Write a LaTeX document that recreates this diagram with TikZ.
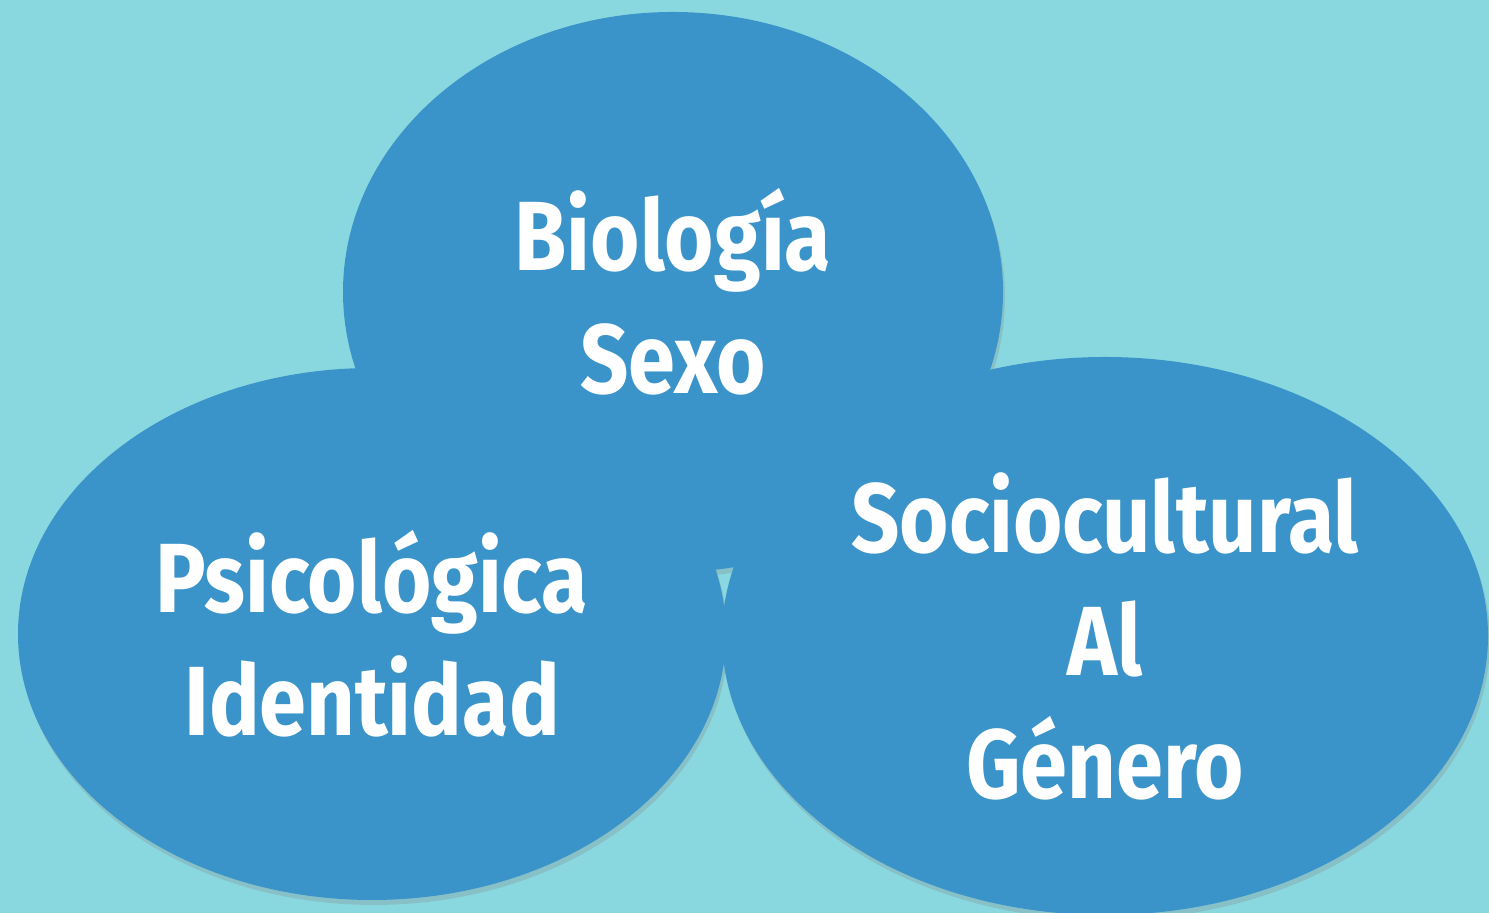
\documentclass[tikz,border=0pt]{standalone}
\usepackage{fontspec}
\setmainfont{Fira Sans}[FakeStretch=0.86]
\usetikzlibrary{shapes.geometric,shadows}
\definecolor{bgteal}{HTML}{8AD8DF}
\definecolor{blobblue}{HTML}{3B94C9}
\tikzset{
  blob/.style={ellipse, fill=blobblue, inner sep=0pt, align=center, text=white,
    font=\fontsize{28}{35}\selectfont\bfseries,
    drop shadow={shadow xshift=0.02cm, shadow yshift=-0.05cm, opacity=0.25}}
}
\begin{document}
\begin{tikzpicture}
\fill[bgteal] (0,0) rectangle (14.89,9.13);
\useasboundingbox (0,0) rectangle (14.89,9.13);
\node[blob, minimum width=6.60cm, minimum height=5.60cm] (bio) at (6.73,6.21) {Biología\\Sexo};
\node[blob, minimum width=7.08cm, minimum height=5.32cm] (psi) at (3.72,2.79) {Psicológica\\Identidad};
\node[blob, minimum width=7.66cm, minimum height=5.58cm] (soc) at (11.05,2.77) {Sociocultural\\Al\\Género};
\end{tikzpicture}
\end{document}
